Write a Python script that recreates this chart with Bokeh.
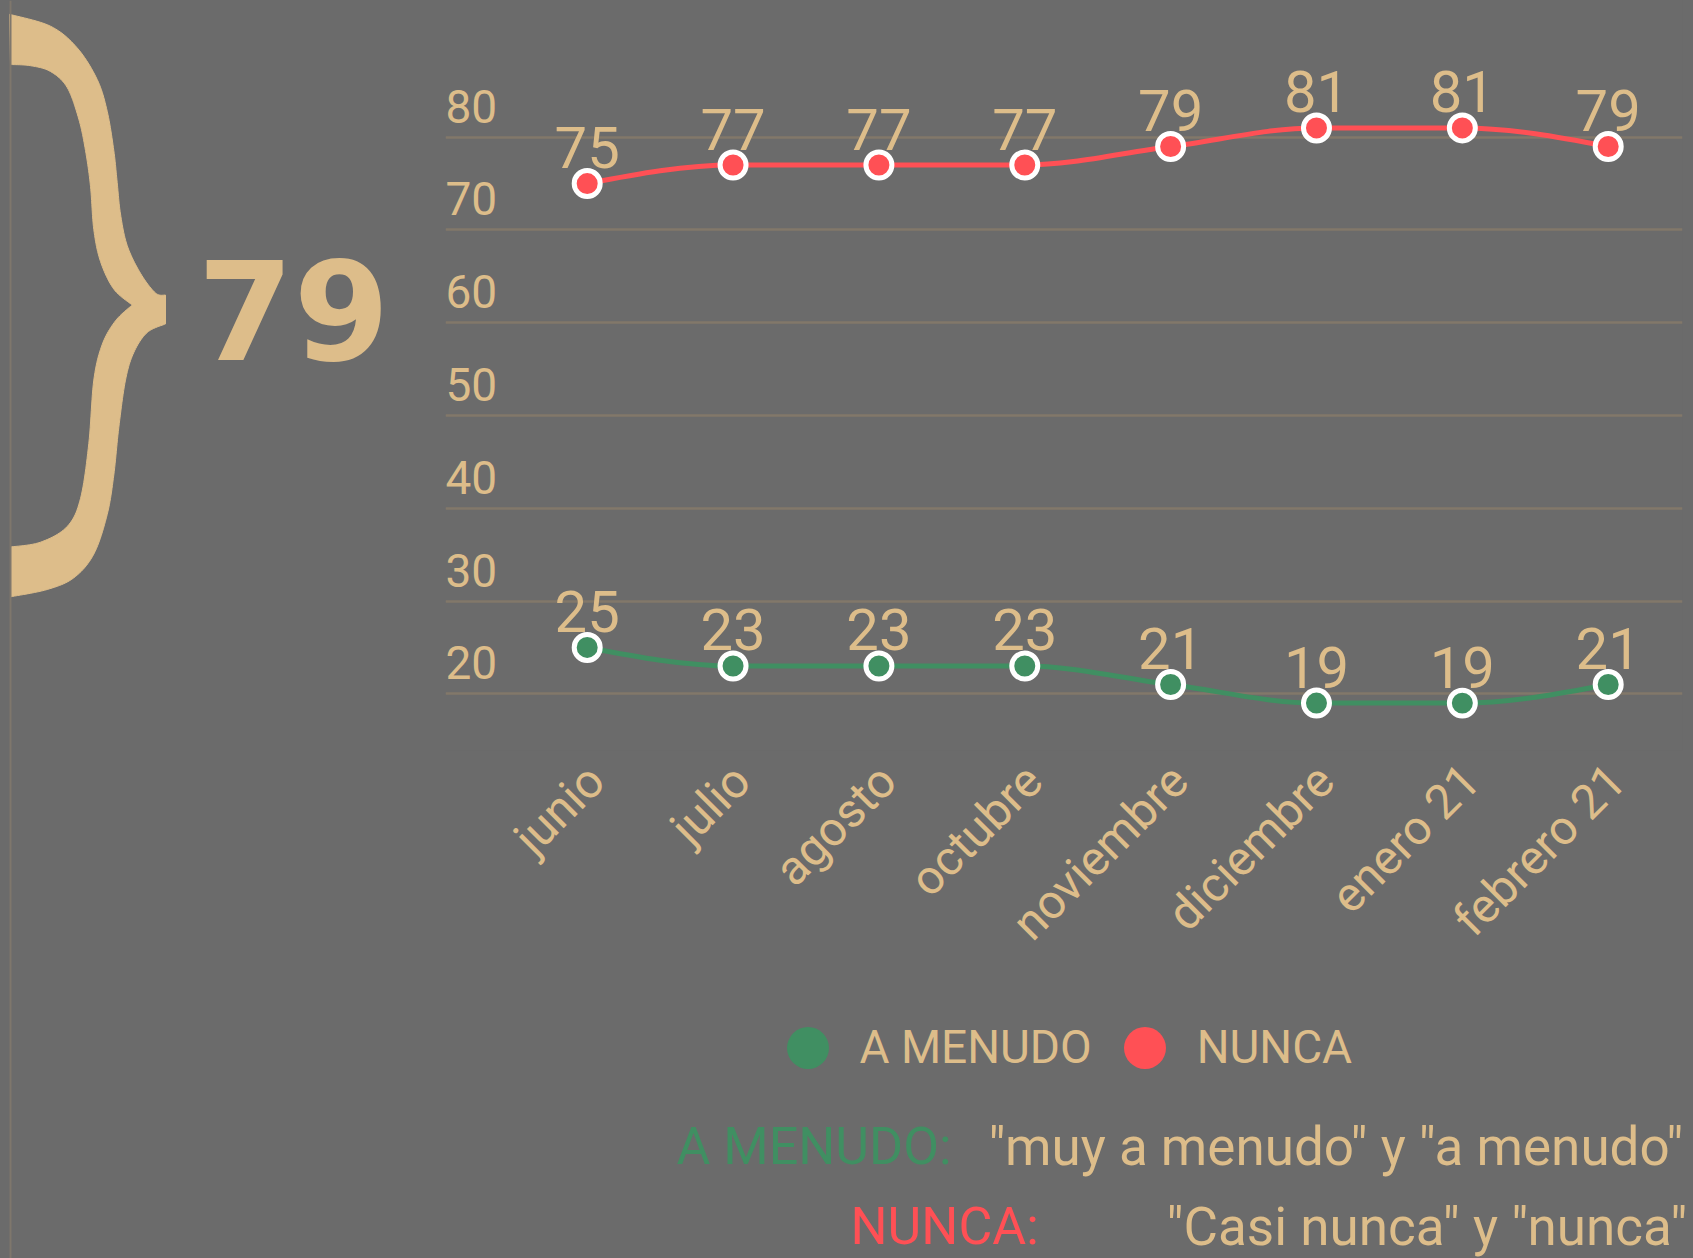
import math
import numpy as np
from bokeh.plotting import figure
from bokeh.models import Range1d, FixedTicker, ColumnDataSource, Legend, LegendItem
from bokeh.layouts import row, column
from bokeh.embed import file_html
from bokeh.resources import INLINE
from bokeh.core.properties import value

# ---------------- data ----------------
months = ["junio", "julio", "agosto", "octubre", "noviembre", "diciembre", "enero 21", "febrero 21"]
a_menudo = [25, 23, 23, 23, 21, 19, 19, 21]
nunca = [75, 77, 77, 77, 79, 81, 81, 79]
y_ticks = [20, 30, 40, 50, 60, 70, 80]
series_names = ["A MENUDO", "NUNCA"]
highlight_value = 79
note_labels = ["A MENUDO:", "NUNCA:"]
note_texts = ['"muy a menudo" y "a menudo"', '"Casi nunca" y "nunca"']

# ---------------- style ----------------
BG = "#6b6b6b"
TAN = "#ddbd8a"
GRID = "#82786a"
RED = "#ff5055"
GREEN = "#408f62"
EDGE = "#7f776c"
NOTE_FONT = "Roboto"

PAGE_W, PAGE_H = 1693, 1258
W_LEFT = 445
W_MAIN = PAGE_W - W_LEFT
H_CHART = 990
H_BOTTOM = PAGE_H - H_CHART

# main frame geometry (page pixels)
FR_L, FR_R, FR_T, FR_B = 445, 1682, 0, 750
PX_X = 145.86
X0 = -(586.7 - FR_L) / PX_X
X1 = (len(months) - 1) + (FR_R - 1607.7) / PX_X
PX_Y = 9.277
Y_TOP = 80 + (136.7 - FR_T) / PX_Y
Y_BOT = Y_TOP - (FR_B - FR_T) / PX_Y
LABEL_SHIFT = 0.06   # x-axis labels sit slightly right of their points


def no_align(fig):
    try:
        fig.frame_align = False
    except Exception:
        pass


def monotone_tangents(y):
    n = len(y)
    s = [y[i + 1] - y[i] for i in range(n - 1)]
    t = [0.0] * n
    for i in range(1, n - 1):
        s0, s1 = s[i - 1], s[i]
        p_ = (s0 + s1) / 2.0
        t[i] = (np.sign(s0) + np.sign(s1)) * min(abs(s0), abs(s1), 0.5 * abs(p_))
    t[0] = (3 * s[0] - t[1]) / 2.0
    t[-1] = (3 * s[-1] - t[-2]) / 2.0
    return t


def bezier_source(xs, ys):
    t = monotone_tangents(ys)
    d = dict(x0=[], y0=[], x1=[], y1=[], cx0=[], cy0=[], cx1=[], cy1=[])
    for i in range(len(xs) - 1):
        h = xs[i + 1] - xs[i]
        d["x0"].append(xs[i]); d["y0"].append(ys[i])
        d["x1"].append(xs[i + 1]); d["y1"].append(ys[i + 1])
        d["cx0"].append(xs[i] + h / 3.0); d["cy0"].append(ys[i] + t[i] * h / 3.0)
        d["cx1"].append(xs[i + 1] - h / 3.0); d["cy1"].append(ys[i + 1] - t[i + 1] * h / 3.0)
    return ColumnDataSource(d)


xs = list(range(len(months)))

# ---------------- main chart ----------------
p = figure(width=W_MAIN, height=H_CHART, x_range=Range1d(X0, X1), y_range=Range1d(Y_BOT, Y_TOP),
           y_axis_location=None, output_backend="svg", toolbar_location=None,
           min_border_left=0, min_border_right=W_MAIN - (FR_R - FR_L), min_border_top=0,
           min_border_bottom=H_CHART - (FR_B - FR_T))
no_align(p)
p.background_fill_color = None
p.border_fill_color = BG
p.outline_line_color = None
p.xgrid.grid_line_color = None
p.ygrid.ticker = FixedTicker(ticks=y_ticks)
p.ygrid.grid_line_color = GRID
p.ygrid.grid_line_width = 2.5

tick_pos = [x + LABEL_SHIFT for x in xs]
ax = p.xaxis[0]
ax.ticker = FixedTicker(ticks=tick_pos)
ax.major_label_overrides = {t: m for t, m in zip(tick_pos, months)}
ax.major_label_orientation = math.pi / 4
ax.axis_line_color = None
ax.major_tick_line_color = None
ax.minor_tick_line_color = None
ax.major_label_text_font = "Roboto"
ax.major_label_text_font_size = "48px"
ax.major_label_text_color = TAN
ax.major_label_standoff = 16

# y tick labels sitting above their grid lines
p.text(x=[X0] * len(y_ticks), y=y_ticks, text=[str(v) for v in y_ticks],
       x_offset=0, y_offset=-31, text_align="left", text_baseline="alphabetic",
       text_font=value("Roboto"), text_font_size="46px", text_color=TAN)

for vals, color in ((a_menudo, GREEN), (nunca, RED)):
    p.bezier(x0="x0", y0="y0", x1="x1", y1="y1", cx0="cx0", cy0="cy0", cx1="cx1", cy1="cy1",
             source=bezier_source(xs, vals), line_color=color, line_width=5)
    p.text(x=xs, y=vals, text=[str(v) for v in vals], y_offset=-36,
           text_align="center", text_baseline="alphabetic",
           text_font=value("Roboto"), text_font_size="58px", text_color=TAN)
    p.scatter(x=xs, y=vals, size=26, fill_color=color, line_color="white", line_width=5)

# ---------------- bottom panel: legend + notes ----------------
b = figure(width=W_MAIN, height=H_BOTTOM, x_range=Range1d(0, W_MAIN), y_range=Range1d(H_BOTTOM, 0),
           x_axis_location=None, y_axis_location=None, output_backend="svg",
           toolbar_location=None, min_border=0)
no_align(b)
b.background_fill_color = None
b.border_fill_color = BG
b.outline_line_color = None
b.grid.visible = False

# swatch renderers (their single point lies outside the visible range)
r_g = b.scatter(x=[-500], y=[-500], size=10, fill_color=GREEN, line_color=None)
r_r = b.scatter(x=[-500], y=[-500], size=10, fill_color=RED, line_color=None)
GLYPH = 105
leg_left = 807 - GLYPH / 2.0
leg_bottom = (1047 - H_CHART) + GLYPH / 2.0
legend = Legend(items=[LegendItem(label=series_names[0], renderers=[r_g]),
                       LegendItem(label=series_names[1], renderers=[r_r])],
                orientation="horizontal", location=(leg_left - FR_L, H_BOTTOM - leg_bottom),
                glyph_width=GLYPH, glyph_height=GLYPH, label_standoff=0, spacing=-4,
                padding=0, margin=0, background_fill_alpha=0, border_line_color=None,
                label_text_font="Roboto", label_text_font_size="46px", label_text_color=TAN,
                label_text_baseline="middle")
b.add_layout(legend)

note_x = [676 - FR_L, 988 - FR_L, 850 - FR_L, 1166 - FR_L]
note_y = [1146 - H_CHART, 1146 - H_CHART, 1226 - H_CHART, 1226 - H_CHART]
b.text(x=note_x, y=note_y,
       text=[note_labels[0], note_texts[0], note_labels[1], note_texts[1]],
       text_color=[GREEN, TAN, RED, TAN], text_align="left", text_baseline="alphabetic",
       text_font=value(NOTE_FONT), text_font_size=["52px", "53px", "52px", "53px"])

# ---------------- left panel: brace + highlighted value ----------------
lf = figure(width=W_LEFT, height=PAGE_H, x_range=Range1d(0, W_LEFT), y_range=Range1d(PAGE_H, 0),
            x_axis_location=None, y_axis_location=None, output_backend="svg",
            toolbar_location=None, min_border=0)
no_align(lf)
lf.background_fill_color = None
lf.border_fill_color = BG
lf.outline_line_color = None
lf.grid.visible = False


def catmull(pts, n=12):
    pts = [pts[0]] + list(pts) + [pts[-1]]
    out = []
    for i in range(1, len(pts) - 2):
        p0, p1, p2, p3 = pts[i - 1], pts[i], pts[i + 1], pts[i + 2]
        for k in range(n):
            t = k / float(n)
            t2, t3 = t * t, t * t * t
            out.append(tuple(0.5 * (2 * p1[j] + (-p0[j] + p2[j]) * t
                                    + (2 * p0[j] - 5 * p1[j] + 4 * p2[j] - p3[j]) * t2
                                    + (-p0[j] + 3 * p1[j] - 3 * p2[j] + p3[j]) * t3)
                             for j in range(2)))
    out.append(pts[-2])
    return out


upper_outer = [(9, 13.8), (50, 25.7), (76.7, 47.4), (96.7, 79), (106.7, 110.7), (113.3, 150),
               (116.7, 182), (120, 213.5), (126.7, 245), (140, 272.8), (155, 292.5), (165, 294.6)]
lower_outer = [(165, 323.4), (146.7, 332), (133.3, 352), (125, 379.6), (118.3, 427), (113.3, 474.5),
               (106.7, 514), (93.3, 553.6), (73.3, 577.3), (46.7, 589), (10, 596.3)]
lower_inner = [(10, 546.5), (40, 541.7), (66.7, 526), (80, 498), (88.3, 443), (93.3, 379.6),
               (101.7, 344), (115, 320.3), (131.7, 304.5)]
upper_inner = [(131.7, 304.5), (113.3, 288.6), (100, 261), (93.3, 229), (90, 185.8), (85, 150),
               (78.3, 118.6), (66.7, 87), (50, 71), (30, 65.2), (10, 64)]
outline = catmull(upper_outer) + catmull(lower_outer) + catmull(lower_inner) + catmull(upper_inner)
lf.patch([q[0] for q in outline], [q[1] for q in outline], fill_color=TAN, line_color=TAN, line_width=1)

lf.text(x=[197], y=[309], text=[str(highlight_value)], text_align="left",
        text_baseline="alphabetic", text_font=value("DejaVu Sans"), text_font_style="bold",
        text_font_size="138px", text_color=TAN)

lf.segment(x0=[10], y0=[0], x1=[10], y1=[PAGE_H], line_color=EDGE, line_width=2)

layout = row(lf, column(p, b, spacing=0), spacing=0)
html = file_html(layout, INLINE)
html = html.replace("</head>", "<style>html, body { background-color: %s; }</style></head>" % BG, 1)
open("out.html", "w").write(html)
